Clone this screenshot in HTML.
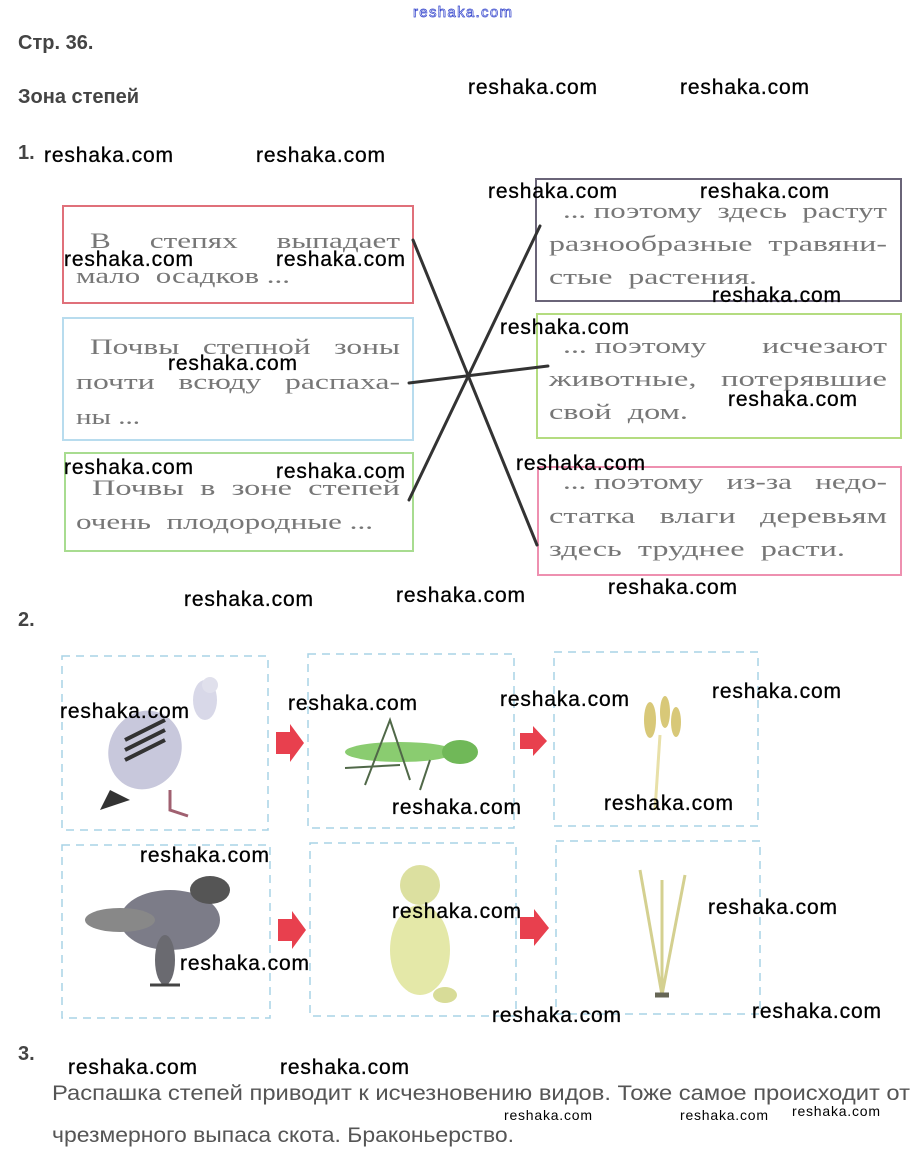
<!DOCTYPE html>
<html><head><meta charset="utf-8"><style>
html,body{margin:0;padding:0;background:#fff;}
svg{display:block}
text{white-space:pre}
.wm{font-family:"Liberation Sans",sans-serif;font-size:21px;fill:#000;stroke:#000;stroke-width:0.3}
.sm{font-family:"Liberation Sans",sans-serif;font-size:14px;fill:#000;}
.h{font-family:"Liberation Sans",sans-serif;font-size:20px;font-weight:bold;fill:#444;}
.bx{font-family:"Liberation Serif",serif;font-size:22px;fill:#777;}
.t3{font-family:"Liberation Sans",sans-serif;font-size:21px;fill:#555;}
</style></head><body>
<svg width="924" height="1173" viewBox="0 0 924 1173" xmlns="http://www.w3.org/2000/svg">
<text x="413" y="17" font-family="Liberation Sans,sans-serif" font-size="15" fill="#fff" stroke="#3344cc" stroke-width="0.7" textLength="99">reshaka.com</text>
<text class="h" x="18" y="49">Стр. 36.</text>
<text class="h" x="18" y="103">Зона степей</text>
<text class="h" x="18" y="159">1.</text>
<text class="h" x="18" y="626">2.</text>
<text class="h" x="18" y="1060">3.</text>

<rect x="63" y="206" width="350" height="97" fill="none" stroke="#e0707a" stroke-width="2"/>
<rect x="63" y="318" width="350" height="122" fill="none" stroke="#b8dcee" stroke-width="2"/>
<rect x="65" y="453" width="348" height="98" fill="none" stroke="#a8dc90" stroke-width="2"/>
<rect x="536" y="179" width="365" height="122" fill="none" stroke="#6a6478" stroke-width="2"/>
<rect x="537" y="314" width="364" height="124" fill="none" stroke="#b4dc80" stroke-width="2"/>
<rect x="538" y="467" width="363" height="108" fill="none" stroke="#ee90b0" stroke-width="2"/>

<g class="bx">
<text x="90" y="248" textLength="310" lengthAdjust="spacingAndGlyphs">В     степях     выпадает</text>
<text x="76" y="283" textLength="214" lengthAdjust="spacingAndGlyphs">мало  осадков ...</text>
<text x="90" y="354" textLength="310" lengthAdjust="spacingAndGlyphs">Почвы   степной   зоны</text>
<text x="76" y="389" textLength="324" lengthAdjust="spacingAndGlyphs">почти   всюду   распаха-</text>
<text x="76" y="424" textLength="64" lengthAdjust="spacingAndGlyphs">ны ...</text>
<text x="92" y="495" textLength="308" lengthAdjust="spacingAndGlyphs">Почвы  в  зоне  степей</text>
<text x="76" y="529" textLength="297" lengthAdjust="spacingAndGlyphs">очень  плодородные ...</text>
<text x="563" y="218" textLength="324" lengthAdjust="spacingAndGlyphs">... поэтому  здесь  растут</text>
<text x="549" y="251" textLength="338" lengthAdjust="spacingAndGlyphs">разнообразные  травяни-</text>
<text x="549" y="284" textLength="208" lengthAdjust="spacingAndGlyphs">стые  растения.</text>
<text x="563" y="353" textLength="324" lengthAdjust="spacingAndGlyphs">... поэтому       исчезают</text>
<text x="549" y="386" textLength="338" lengthAdjust="spacingAndGlyphs">животные,   потерявшие</text>
<text x="549" y="419" textLength="139" lengthAdjust="spacingAndGlyphs">свой  дом.</text>
<text x="563" y="489" textLength="324" lengthAdjust="spacingAndGlyphs">... поэтому   из-за   недо-</text>
<text x="549" y="523" textLength="338" lengthAdjust="spacingAndGlyphs">статка   влаги   деревьям</text>
<text x="549" y="556" textLength="296" lengthAdjust="spacingAndGlyphs">здесь  труднее  расти.</text>
</g>

<g stroke="#333" stroke-width="3" stroke-linecap="round">
<line x1="413" y1="240" x2="537" y2="545"/>
<line x1="409" y1="383" x2="548" y2="366"/>
<line x1="409" y1="500" x2="540" y2="226"/>
</g>

<g fill="none" stroke="#a8d4e6" stroke-width="1.5" stroke-dasharray="8,6">
<rect x="62" y="656" width="206" height="174"/>
<rect x="308" y="654" width="206" height="174"/>
<rect x="554" y="652" width="204" height="174"/>
<rect x="62" y="845" width="208" height="173"/>
<rect x="310" y="843" width="206" height="173"/>
<rect x="556" y="841" width="204" height="173"/>
</g>
<g fill="#e8404e">
<polygon points="276,732 290,732 290,724 304,743 290,762 290,754 276,754"/>
<polygon points="520,733 533,733 533,726 547,741 533,756 533,749 520,749"/>
<polygon points="278,919 292,919 292,911 306,930 292,949 292,941 278,941"/>
<polygon points="520,917 534,917 534,909 549,928 534,946 534,939 520,939"/>
</g>
<g>
<ellipse cx="145" cy="750" rx="36" ry="40" fill="#c8c8dc" transform="rotate(25 145 750)"/>
<ellipse cx="205" cy="700" rx="12" ry="20" fill="#d8d8e8"/>
<circle cx="210" cy="685" r="8" fill="#e0e0ec"/>
<path d="M110 790 L100 810 L130 800 Z" fill="#333"/>
<path d="M125 740 l40 -20 M125 750 l40 -20 M125 760 l40 -20" stroke="#333" stroke-width="4"/>
<path d="M170 790 l0 20 l18 6" stroke="#a06070" stroke-width="3" fill="none"/>
</g>
<g>
<ellipse cx="400" cy="752" rx="55" ry="10" fill="#8acc70"/>
<ellipse cx="460" cy="752" rx="18" ry="12" fill="#70b858"/>
<path d="M365 785 L390 720 L410 780 M430 760 L420 790 M345 768 L400 765" stroke="#506848" stroke-width="2" fill="none"/>
</g>
<g fill="#d8c878">
<ellipse cx="650" cy="720" rx="6" ry="18"/>
<ellipse cx="665" cy="712" rx="5" ry="16"/>
<ellipse cx="676" cy="722" rx="5" ry="15"/>
<path d="M660 735 L655 810" stroke="#e8e0a8" stroke-width="3"/>
</g>
<g>
<ellipse cx="170" cy="920" rx="50" ry="30" fill="#7c7c88"/>
<ellipse cx="120" cy="920" rx="35" ry="12" fill="#888"/>
<ellipse cx="210" cy="890" rx="20" ry="14" fill="#555"/>
<ellipse cx="165" cy="960" rx="10" ry="25" fill="#6a6a70"/>
<path d="M150 985 l30 0" stroke="#444" stroke-width="3"/>
</g>
<g>
<ellipse cx="420" cy="950" rx="30" ry="45" fill="#e4e8a8"/>
<ellipse cx="420" cy="885" rx="20" ry="20" fill="#dce0a0"/>
<ellipse cx="445" cy="995" rx="12" ry="8" fill="#d8dc98"/>
</g>
<g stroke="#d4d090" stroke-width="3" fill="none">
<path d="M662 995 L662 880 M662 995 L640 870 M662 995 L685 875"/>
<path d="M655 995 l14 0" stroke="#665" stroke-width="5"/>
</g>

<text class="t3" x="52" y="1100" textLength="858" lengthAdjust="spacingAndGlyphs">Распашка степей приводит к исчезновению видов. Тоже самое происходит от</text>
<text class="t3" x="52" y="1142" textLength="462" lengthAdjust="spacingAndGlyphs">чрезмерного выпаса скота. Браконьерство.</text>

<g class="wm">
<text x="468" y="94" textLength="129">reshaka.com</text>
<text x="680" y="94" textLength="129">reshaka.com</text>
<text x="44" y="162" textLength="129">reshaka.com</text>
<text x="256" y="162" textLength="129">reshaka.com</text>
<text x="488" y="198" textLength="129">reshaka.com</text>
<text x="700" y="198" textLength="129">reshaka.com</text>
<text x="64" y="266" textLength="129">reshaka.com</text>
<text x="276" y="266" textLength="129">reshaka.com</text>
<text x="712" y="302" textLength="129">reshaka.com</text>
<text x="500" y="334" textLength="129">reshaka.com</text>
<text x="168" y="370" textLength="129">reshaka.com</text>
<text x="728" y="406" textLength="129">reshaka.com</text>
<text x="64" y="474" textLength="129">reshaka.com</text>
<text x="276" y="478" textLength="129">reshaka.com</text>
<text x="516" y="470" textLength="129">reshaka.com</text>
<text x="184" y="606" textLength="129">reshaka.com</text>
<text x="396" y="602" textLength="129">reshaka.com</text>
<text x="608" y="594" textLength="129">reshaka.com</text>
<text x="60" y="718" textLength="129">reshaka.com</text>
<text x="288" y="710" textLength="129">reshaka.com</text>
<text x="500" y="706" textLength="129">reshaka.com</text>
<text x="712" y="698" textLength="129">reshaka.com</text>
<text x="392" y="814" textLength="129">reshaka.com</text>
<text x="604" y="810" textLength="129">reshaka.com</text>
<text x="140" y="862" textLength="129">reshaka.com</text>
<text x="392" y="918" textLength="129">reshaka.com</text>
<text x="708" y="914" textLength="129">reshaka.com</text>
<text x="180" y="970" textLength="129">reshaka.com</text>
<text x="492" y="1022" textLength="129">reshaka.com</text>
<text x="752" y="1018" textLength="129">reshaka.com</text>
<text x="68" y="1074" textLength="129">reshaka.com</text>
<text x="280" y="1074" textLength="129">reshaka.com</text>
</g>
<g class="sm">
<text x="504" y="1120" textLength="88">reshaka.com</text>
<text x="680" y="1120" textLength="88">reshaka.com</text>
<text x="792" y="1116" textLength="88">reshaka.com</text>
</g>
</svg>
</body></html>
